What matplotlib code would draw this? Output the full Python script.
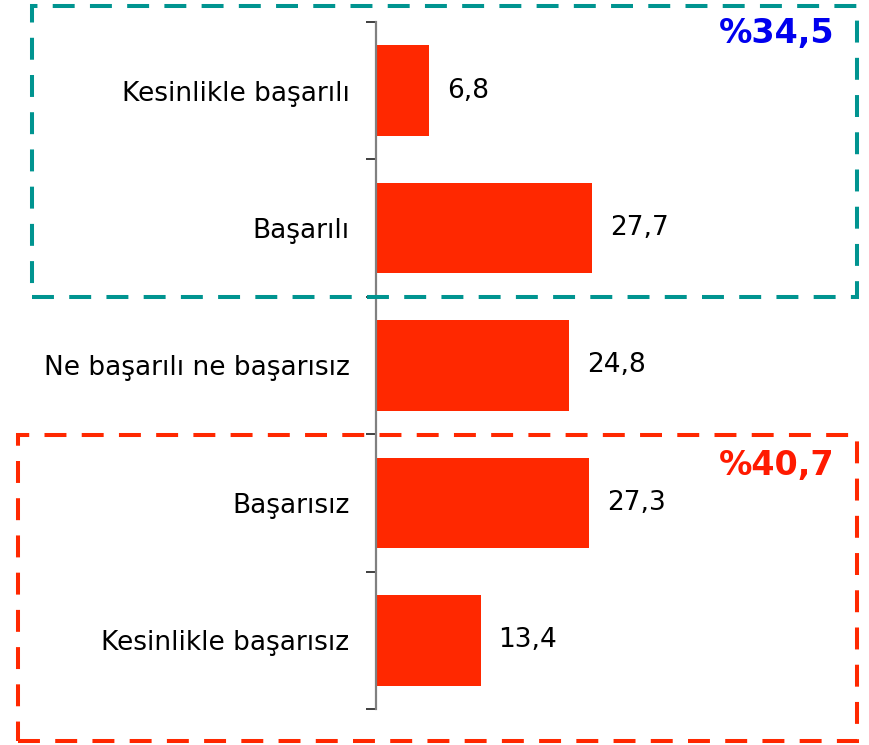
import matplotlib
matplotlib.use("Agg")
import matplotlib.pyplot as plt
from matplotlib.patches import Rectangle

plt.rcParams['font.family'] = ['DejaVu Sans']
plt.rcParams['lines.scale_dashes'] = False

categories = ["Kesinlikle başarılı", "Başarılı", "Ne başarılı ne başarısız",
              "Başarısız", "Kesinlikle başarısız"]
values = [6.8, 27.7, 24.8, 27.3, 13.4]
value_labels = ["6,8", "27,7", "24,8", "27,3", "13,4"]
group_labels = ["%34,5", "%40,7"]

W, H = 869, 745
fig = plt.figure(figsize=(W / 100, H / 100), dpi=100)

def fx(px):
    return px / W

def fy(py):
    return 1 - py / H

ax_left, ax_right, ax_top, ax_bot = 376, 860, 22, 709
ax = fig.add_axes([fx(ax_left), fy(ax_bot), fx(ax_right - ax_left), (ax_bot - ax_top) / H])

bar_color = '#FF2800'
pos = list(range(len(categories)))
ax.barh(pos, values, height=0.66, color=bar_color, zorder=2)
ax.set_ylim(len(categories) - 0.5, -0.5)
xmax = (ax_right - ax_left) / 7.8
ax.set_xlim(0, xmax)

for p, v, lab in zip(pos, values, value_labels):
    ax.annotate(lab, xy=(v, p), xytext=(13, 0), textcoords='offset points',
                va='center', ha='left', fontsize=19, color='black')

# ticks: boundaries as major ticks (no labels), categories as minor labels
ax.set_yticks([i - 0.5 for i in range(len(categories) + 1)])
ax.set_yticklabels([])
ax.tick_params(axis='y', which='major', length=7, width=1.3, color='#303030', direction='out')
ax.set_yticks(pos, minor=True)
ax.set_yticklabels(categories, minor=True, fontsize=19)
ax.tick_params(axis='y', which='minor', length=0, pad=19)
ax.set_xticks([])
for s in ['top', 'right', 'bottom']:
    ax.spines[s].set_visible(False)
ax.spines['left'].set_color('#808080')
ax.spines['left'].set_linewidth(1.6)

# dashed group boxes (figure pixel coordinates)
def box(x0, y0, x1, y1, color):
    r = Rectangle((fx(x0), fy(y1)), fx(x1 - x0), (y1 - y0) / H,
                  transform=fig.transFigure, fill=False, edgecolor=color,
                  linewidth=2.9, linestyle=(0, (15.8, 11.0)), zorder=5)
    fig.add_artist(r)

box(32, 6, 857, 297, '#009490')
box(18, 435, 857, 741, '#FF2800')

fig.text(fx(835), fy(34), group_labels[0], ha='right', va='center',
         fontsize=24, fontweight='bold', color='#0000EE')
fig.text(fx(835), fy(465), group_labels[1], ha='right', va='center',
         fontsize=24, fontweight='bold', color='#FF1A00')

fig.savefig("out.png", dpi=100)
